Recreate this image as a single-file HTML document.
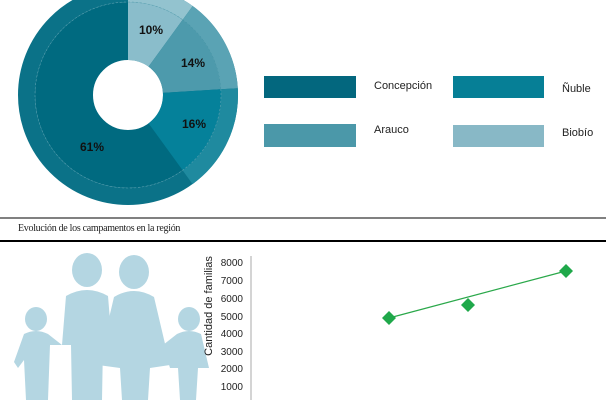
<!DOCTYPE html>
<html><head><meta charset="utf-8"><style>
body{margin:0;width:612px;height:400px;background:#fff;overflow:hidden;position:relative;font-family:"Liberation Sans",sans-serif}
.t{position:absolute;font-size:11px;color:#222}
</style></head><body>
<svg width="612" height="400" style="position:absolute;left:0;top:0">
<g transform="rotate(-90 128 95)">
<circle cx="128" cy="95" r="101.5" fill="none" stroke="#0b7288" stroke-width="17"/>
<circle cx="128" cy="95" r="101.5" fill="none" stroke="#93c3cf" stroke-width="17" stroke-dasharray="63.8 600"/>
<circle cx="128" cy="95" r="101.5" fill="none" stroke="#5aa3b4" stroke-width="17" stroke-dasharray="0 63.8 89.3 600"/>
<circle cx="128" cy="95" r="101.5" fill="none" stroke="#1f8a9f" stroke-width="17" stroke-dasharray="0 153.1 102 600"/>
<circle cx="128" cy="95" r="64" fill="none" stroke="#006a80" stroke-width="58"/>
<circle cx="128" cy="95" r="64" fill="none" stroke="#8abdcb" stroke-width="58" stroke-dasharray="40.2 600"/>
<circle cx="128" cy="95" r="64" fill="none" stroke="#4d9aac" stroke-width="58" stroke-dasharray="0 40.2 56.3 600"/>
<circle cx="128" cy="95" r="64" fill="none" stroke="#05819a" stroke-width="58" stroke-dasharray="0 96.5 64.3 600"/>
<circle cx="128" cy="95" r="93" fill="none" stroke="#5aa0b0" stroke-width="0.6" stroke-dasharray="2 2"/>
</g>
<text x="151" y="34" font-size="12" font-weight="bold" text-anchor="middle" fill="#111" font-family="Liberation Sans">10%</text>
<text x="193" y="67" font-size="12" font-weight="bold" text-anchor="middle" fill="#111" font-family="Liberation Sans">14%</text>
<text x="194" y="128" font-size="12" font-weight="bold" text-anchor="middle" fill="#111" font-family="Liberation Sans">16%</text>
<text x="92" y="151" font-size="12" font-weight="bold" text-anchor="middle" fill="#111" font-family="Liberation Sans">61%</text>
<rect x="264" y="76" width="92" height="22" fill="#03677e"/>
<rect x="453" y="76" width="91" height="22" fill="#067f96"/>
<rect x="264" y="124" width="92" height="23" fill="#4b98a9"/>
<rect x="453" y="125" width="91" height="22" fill="#88b8c6"/>
<line x1="0" y1="218" x2="606" y2="218" stroke="#000" stroke-width="1"/>
<line x1="0" y1="241" x2="606" y2="241" stroke="#000" stroke-width="2"/>
<g fill="#b4d6e2">
<ellipse cx="87" cy="270" rx="15" ry="17"/>
<ellipse cx="134" cy="272" rx="15" ry="17"/>
<ellipse cx="36" cy="319" rx="11" ry="12"/>
<ellipse cx="189" cy="319" rx="11" ry="12"/>
<path d="M66 296 Q87 284 108 296 L112 345 L103 345 L102 400 L72 400 L71 345 L62 345 Z"/>
<path d="M114 297 Q134 285 154 297 L170 365 L150 368 L148 400 L122 400 L120 368 L98 365 Z"/>
<path d="M24 334 Q36 328 48 334 L62 345 L50 345 L48 400 L26 400 L24 360 L18 368 L14 362 Z"/>
<path d="M177 334 Q189 328 201 334 L209 368 L198 368 L196 400 L180 400 L178 368 L170 368 L163 345 Z"/>
</g>
<line x1="251" y1="256" x2="251" y2="400" stroke="#aaa" stroke-width="1"/>
<g font-size="10" fill="#222" text-anchor="end" font-family="Liberation Sans">
<text x="243" y="266">8000</text><text x="243" y="284">7000</text><text x="243" y="302">6000</text><text x="243" y="320">5000</text><text x="243" y="337">4000</text><text x="243" y="355">3000</text><text x="243" y="372">2000</text><text x="243" y="390">1000</text>
</g>
<text transform="translate(212 306) rotate(-90)" font-size="11" fill="#222" text-anchor="middle" font-family="Liberation Sans">Cantidad de familias</text>
<line x1="389" y1="318" x2="566" y2="271" stroke="#2aa84a" stroke-width="1.2"/>
<g fill="#1fa84a">
<path d="M389 311 L396 318 L389 325 L382 318Z"/>
<path d="M468 298 L475 305 L468 312 L461 305Z"/>
<path d="M566 264 L573 271 L566 278 L559 271Z"/>
</g>
</svg>
<div class="t" style="left:374px;top:80px">Concepción</div>
<div class="t" style="left:562px;top:83px">Ñuble</div>
<div class="t" style="left:374px;top:124px">Arauco</div>
<div class="t" style="left:562px;top:127px">Biobío</div>
<div class="t" style="left:18px;top:223px;font-family:'Liberation Serif',serif;font-size:10px;letter-spacing:-0.3px">Evolución de los campamentos en la región</div>
</body></html>
